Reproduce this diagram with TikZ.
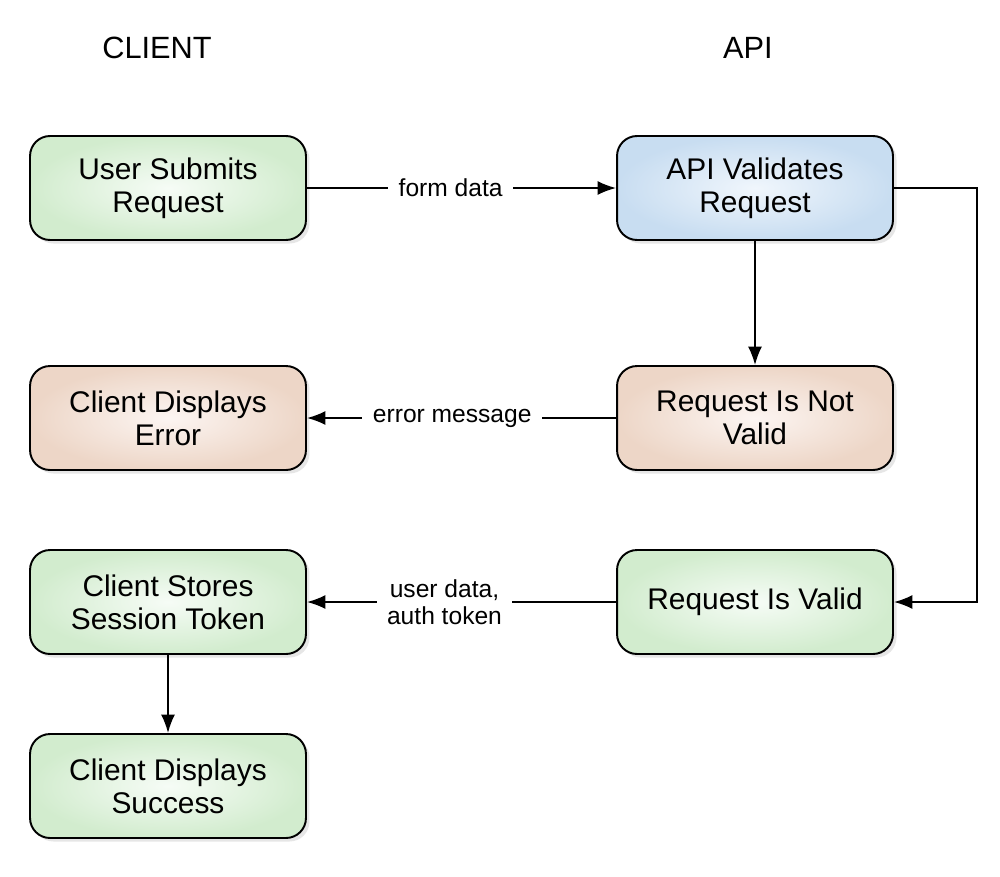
\documentclass[tikz,border=0pt]{standalone}
\usepackage{fontspec}
\setmainfont{Liberation Sans}
\usetikzlibrary{arrows.meta,shadows}
\definecolor{gout}{RGB}{210,236,206}
\definecolor{gin}{RGB}{246,252,246}
\definecolor{bout}{RGB}{200,221,241}
\definecolor{bin}{RGB}{240,246,252}
\definecolor{pout}{RGB}{237,214,199}
\definecolor{pin}{RGB}{252,245,242}
\tikzset{
  box/.style={draw=black, line width=1.1pt, rounded corners=0.4cm,
    minimum width=5.52cm, minimum height=2.08cm, inner sep=0pt, align=center,
    font=\fontsize{17}{18.8}\selectfont,
    drop shadow={opacity=0.2, shadow xshift=2pt, shadow yshift=-2pt}},
  greenbox/.style={box, shading=radial, inner color=gin, outer color=gout},
  bluebox/.style={box, shading=radial, inner color=bin, outer color=bout},
  pinkbox/.style={box, shading=radial, inner color=pin, outer color=pout},
  conn/.style={line width=1.1pt, -{Latex[length=10.5pt,width=8pt]}},
  lbl/.style={fill=white, inner sep=6pt, align=center, font=\fontsize{14}{15.5}\selectfont},
  head/.style={font=\fontsize{17.5}{20}\selectfont}
}
\begin{document}
\begin{tikzpicture}[x=0.02cm, y=-0.02cm]
\useasboundingbox (0,0) rectangle (1000,876);
\node[head] (hc) at (157,48) {CLIENT};
\node[head] (ha) at (748,48) {API};
\node[greenbox] (usr) at (168,188) {User Submits\\Request};
\node[bluebox] (val) at (755,188) {API Validates\\Request};
\node[pinkbox] (err) at (168,418) {Client Displays\\Error};
\node[pinkbox] (nv) at (755,418) {Request Is Not\\Valid};
\node[greenbox] (sto) at (168,602) {Client Stores\\Session Token};
\node[greenbox] (ok) at (755,602) {Request Is Valid};
\node[greenbox] (suc) at (168,786) {Client Displays\\Success};
\coordinate (c1) at (977,188);
\coordinate (c2) at (977,602);
\draw[conn] (usr) -- node[lbl, pos=0.465] {form data} (val);
\draw[conn] (val) -- (nv);
\draw[conn] (nv) -- node[lbl, pos=0.53] {error message} (err);
\draw[conn] (val.east) -- (c1) -- (c2) -- (ok.east);
\draw[conn] (ok) -- node[lbl, pos=0.555] {user data,\\auth token} (sto);
\draw[conn] (sto) -- (suc);
\end{tikzpicture}
\end{document}
